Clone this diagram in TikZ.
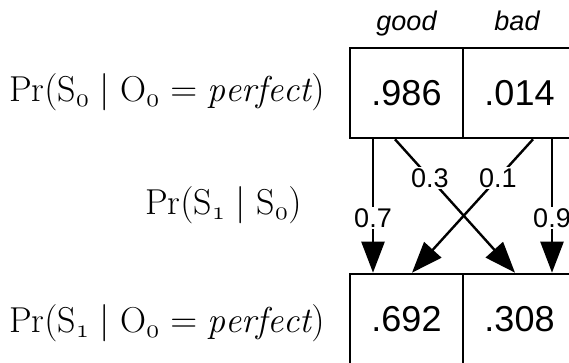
\documentclass[tikz,border=0pt]{standalone}
\usepackage{amsmath, amssymb}
\usepackage{fontspec}
\setsansfont{Liberation Sans}
\usepackage{tikz}
\usetikzlibrary{arrows.meta, positioning}

\newcommand{\st}[1]{\mathrm{S}_{\mathnormal{#1}}}
\newcommand{\ob}[1]{\mathrm{O}_{\mathnormal{#1}}}

\begin{document}
\begin{tikzpicture}[
    x=1pt, y=-1pt,
    >={Triangle[length=31pt, width=23pt]},
    cell/.style={draw, line width=2.6pt, minimum width=113pt, minimum height=90pt,
                 inner sep=0pt, font=\sffamily\fontsize{36}{40}\selectfont},
    head/.style={anchor=base, font=\sffamily\itshape\fontsize{27}{30}\selectfont},
    prob/.style={fill=white, inner sep=1pt, font=\sffamily\fontsize{27}{30}\selectfont},
    lbl/.style={anchor=east, inner sep=0pt, scale=1.5, transform shape, font=\fontsize{24}{30}\selectfont},
    link/.style={->, line width=2.4pt}
  ]
  \useasboundingbox (0,0) rectangle (569,362);

  % ---- time 0 ----
  \node[cell] (s0g) at (406.5,93) {.986};
  \node[cell] (s0b) at (519.5,93) {.014};
  \node[head] (hg) at (406.5,30) {good};
  \node[head] (hb) at (517,30) {bad};

  % ---- time 1 ----
  \node[cell] (s1g) at (406.5,319) {.692};
  \node[cell] (s1b) at (519.5,319) {.308};

  % Transitions
  \draw[link] ([xshift=-33.5pt]s0g.south) -- node[prob, pos=.59] {0.7} ([xshift=-33.5pt]s1g.north);
  \draw[link] ([xshift=-11.5pt]s0g.south) -- node[prob, pos=.29] {0.3} ([xshift=-4.5pt]s1b.north);
  \draw[link] ([xshift=13.5pt]s0b.south) -- node[prob, pos=.29] {0.1} ([xshift=5.5pt]s1g.north);
  \draw[link] ([xshift=32.5pt]s0b.south) -- node[prob, pos=.59] {0.9} ([xshift=32.5pt]s1b.north);

  % Labels
  \node[lbl] (l0) at (325,92) {$\Pr(\st{0} \mid \ob{0} = \mathit{perfect})$};
  \node[lbl] (lt) at (302,205) {$\Pr(\st{1} \mid \st{0})$};
  \node[lbl] (l1) at (325,323) {$\Pr(\st{1} \mid \ob{0} = \mathit{perfect})$};
\end{tikzpicture}
\end{document}
